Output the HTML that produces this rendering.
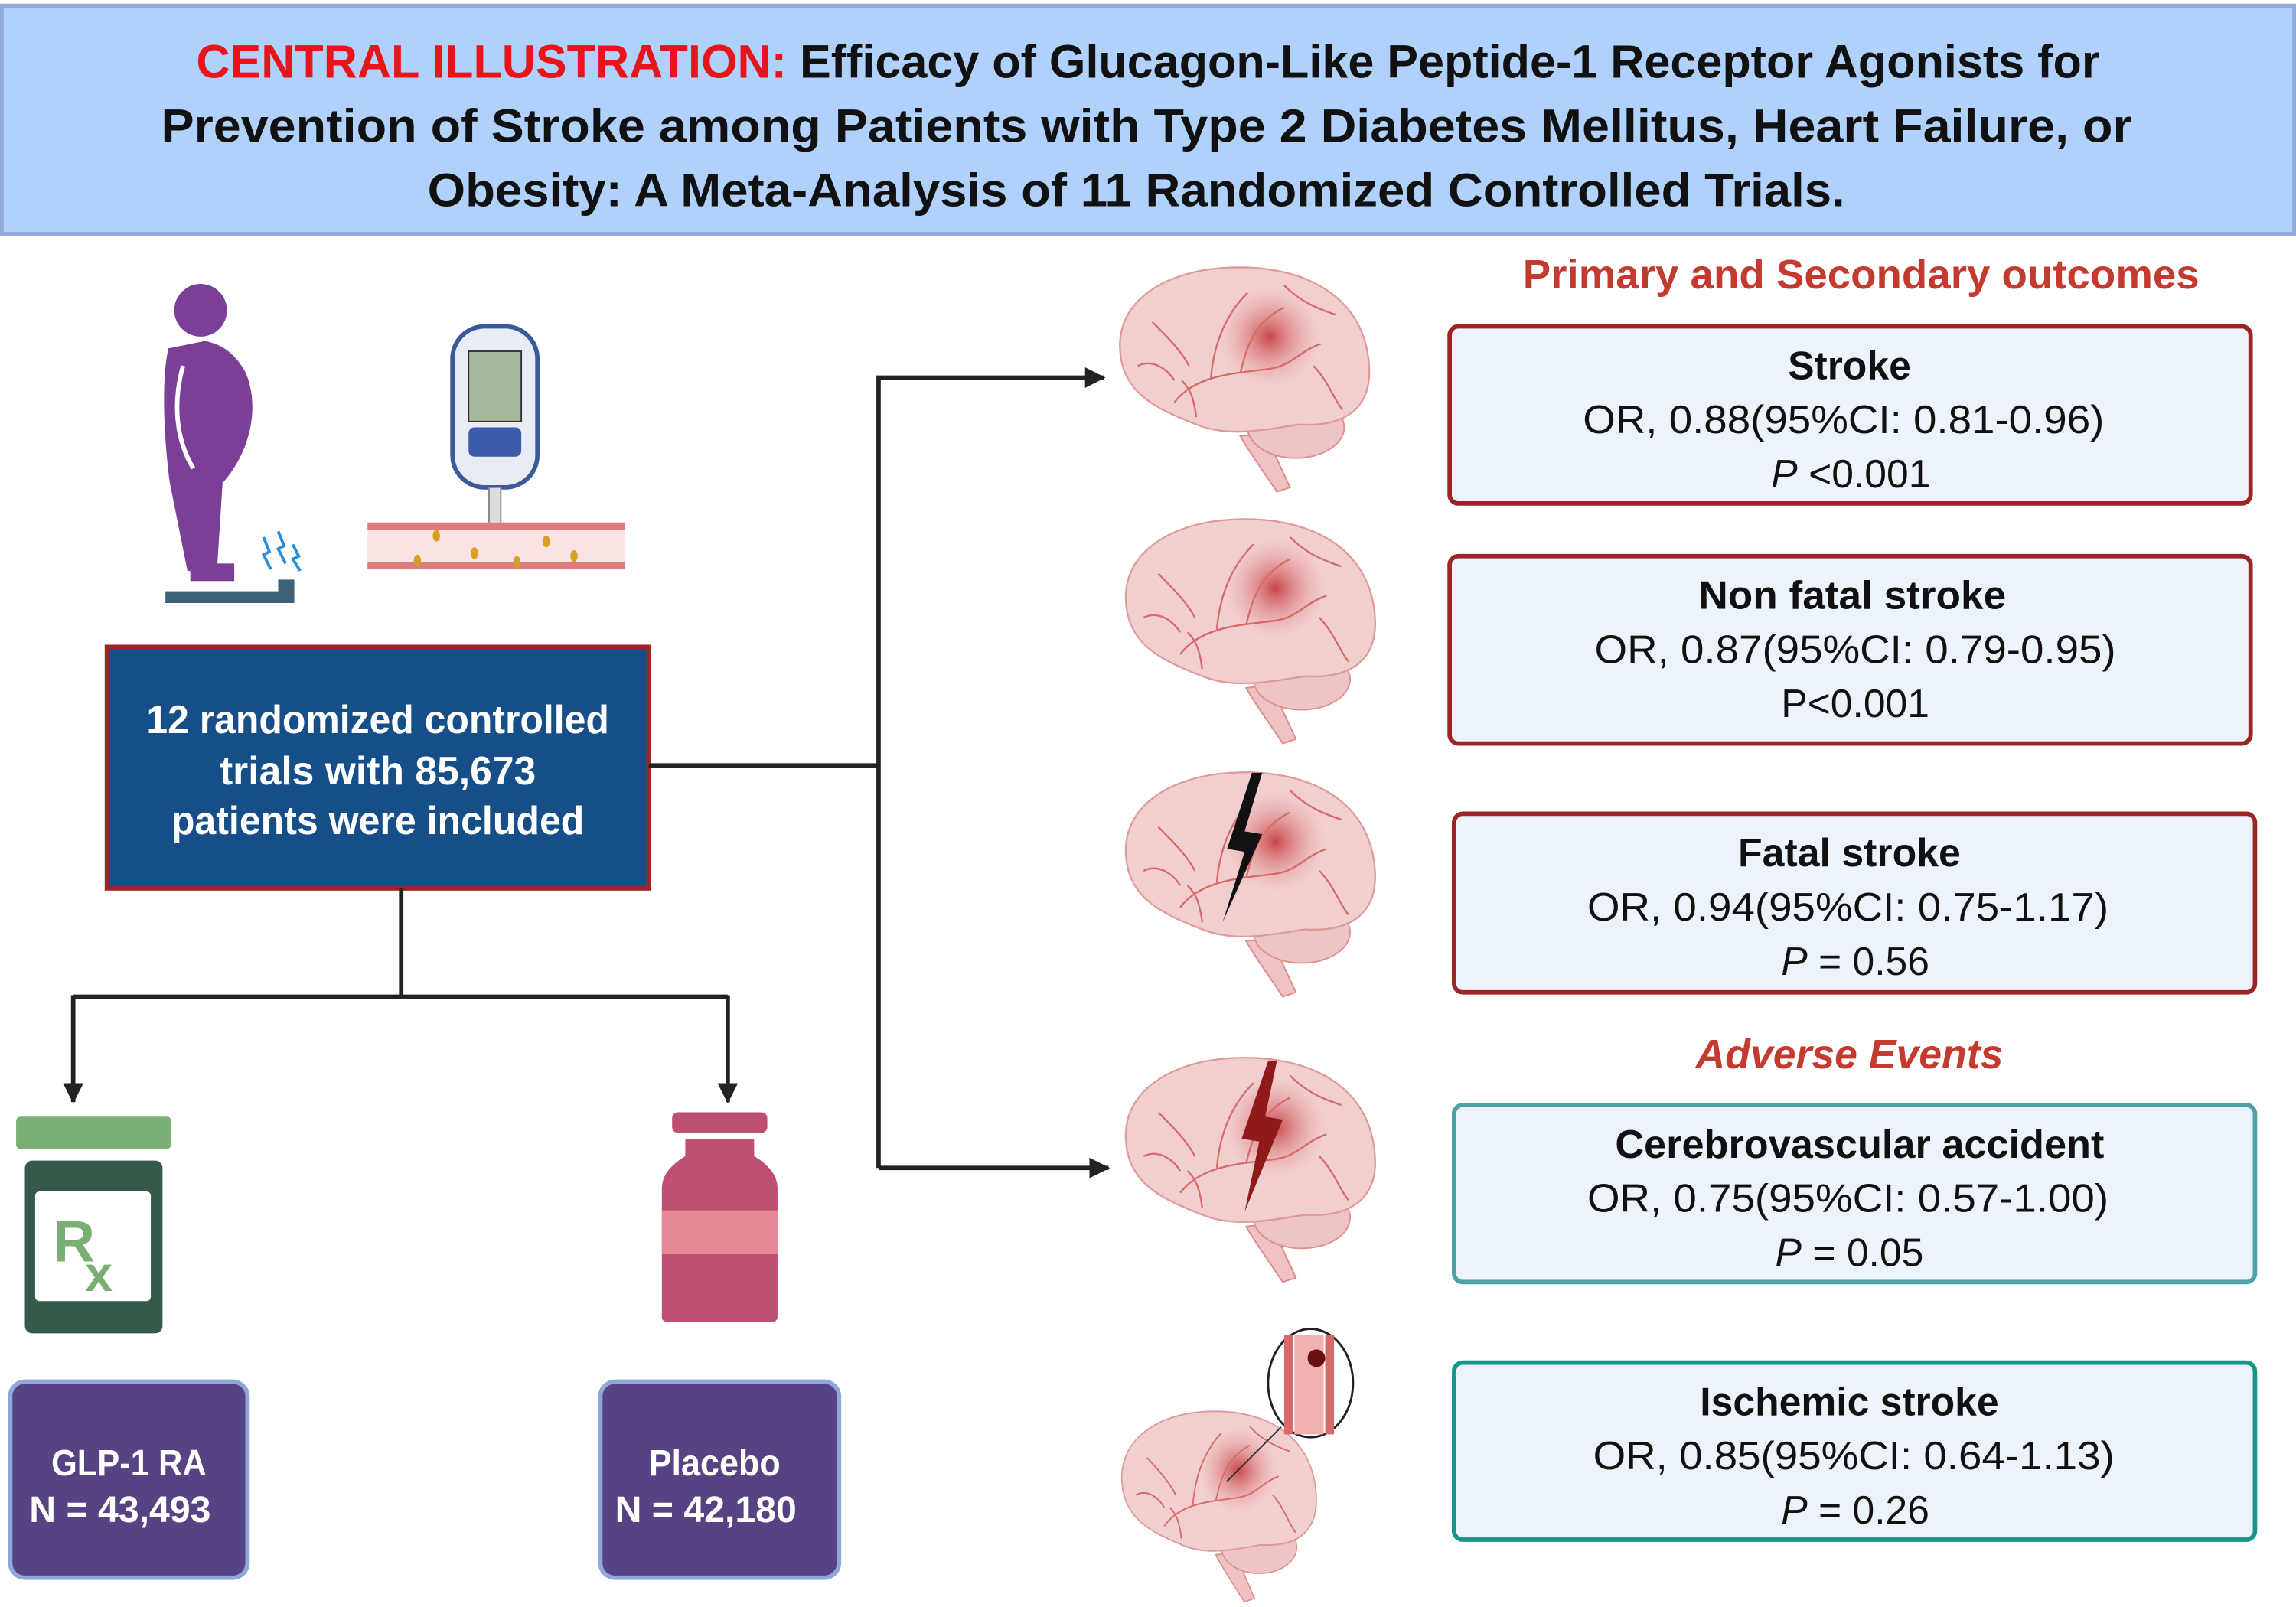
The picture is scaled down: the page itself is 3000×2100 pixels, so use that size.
<!DOCTYPE html>
<html><head><meta charset="utf-8"><style>
html,body{margin:0;padding:0;background:#fff;}
svg{display:block;}
text{font-family:"Liberation Sans",sans-serif;}
</style></head><body>
<svg width="3000" height="2100" viewBox="0 0 1568 1098" preserveAspectRatio="none" xmlns="http://www.w3.org/2000/svg">
<defs>
<radialGradient id="hot" cx="0.5" cy="0.5" r="0.5">
<stop offset="0" stop-color="#c4373a" stop-opacity="0.9"/>
<stop offset="1" stop-color="#e8a0a0" stop-opacity="0"/>
</radialGradient>
<marker id="ah" markerWidth="14" markerHeight="14" refX="13" refY="7" orient="auto" markerUnits="userSpaceOnUse">
<path d="M0,0 L14,7 L0,14 z" fill="#222"/>
</marker>
<g id="brain">
<path d="M90,118 C98,132 108,145 115,156 L124,153 C118,140 112,128 108,116 z" fill="#efc3c3" stroke="#dd8a8a" stroke-width="1"/>
<ellipse cx="128" cy="112" rx="33" ry="21" fill="#eec4c4" stroke="#dd9090" stroke-width="1"/>
<path d="M8,60 C5,25 40,5 80,3 C130,0 175,20 178,70 C180,100 160,112 130,110 C100,115 80,118 60,110 C35,100 10,90 8,60 z" fill="#f2cfcf" stroke="#df9a9a" stroke-width="1.2"/>
<circle cx="110" cy="50" r="35" fill="url(#hot)"/>
<path d="M45,95 C60,75 90,75 110,72 C125,70 130,60 145,55 M70,78 C72,55 80,35 95,20 M90,75 C95,55 100,40 120,30 M30,40 C40,50 50,60 55,70 M140,70 C150,80 155,95 160,100 M60,105 C58,90 55,85 50,80 M20,70 C30,65 40,72 45,80 M120,15 C130,25 140,30 155,35" fill="none" stroke="#d86a6a" stroke-width="1.2"/>
</g>
</defs>

<rect x="1" y="4" width="1566" height="156" fill="#afd1fc" stroke="#92a9d6" stroke-width="3"/>
<text x="784" y="53" text-anchor="middle" font-size="32" font-weight="bold" fill="#111" textLength="1300" lengthAdjust="spacingAndGlyphs"><tspan fill="#e8141a">CENTRAL ILLUSTRATION:</tspan> Efficacy of Glucagon-Like Peptide-1 Receptor Agonists for</text>
<text x="783" y="97" text-anchor="middle" font-size="32" font-weight="bold" fill="#111" textLength="1346" lengthAdjust="spacingAndGlyphs">Prevention of Stroke among Patients with Type 2  Diabetes Mellitus, Heart Failure, or</text>
<text x="776" y="141" text-anchor="middle" font-size="32" font-weight="bold" fill="#111" textLength="968" lengthAdjust="spacingAndGlyphs">Obesity: A Meta-Analysis of 11 Randomized Controlled Trials.</text>

<text x="1271" y="197" text-anchor="middle" font-size="28" font-weight="bold" fill="#c43a2f" textLength="462" lengthAdjust="spacingAndGlyphs">Primary and Secondary outcomes</text>
<text x="1263" y="730" text-anchor="middle" font-size="28" font-weight="bold" font-style="italic" fill="#c43a2f" textLength="210" lengthAdjust="spacingAndGlyphs">Adverse Events</text>

<g font-size="27" fill="#111" text-anchor="middle">
<rect x="990" y="223" width="547" height="121" rx="6" fill="#edf3fb" stroke="#9b2524" stroke-width="3"/>
<text x="1263" y="259" font-weight="bold" textLength="84" lengthAdjust="spacingAndGlyphs">Stroke</text>
<text x="1259" y="296" textLength="356" lengthAdjust="spacingAndGlyphs">OR, 0.88(95%CI: 0.81-0.96)</text>
<text x="1264" y="333"><tspan font-style="italic">P</tspan> &lt;0.001</text>

<rect x="990" y="380" width="547" height="128" rx="6" fill="#edf3fb" stroke="#9b2524" stroke-width="3"/>
<text x="1265" y="416" font-weight="bold" textLength="210" lengthAdjust="spacingAndGlyphs">Non fatal stroke</text>
<text x="1267" y="453" textLength="356" lengthAdjust="spacingAndGlyphs">OR, 0.87(95%CI: 0.79-0.95)</text>
<text x="1267" y="490">P&lt;0.001</text>

<rect x="993" y="556" width="547" height="122" rx="6" fill="#edf3fb" stroke="#9b2524" stroke-width="3"/>
<text x="1263" y="592" font-weight="bold" textLength="152" lengthAdjust="spacingAndGlyphs">Fatal stroke</text>
<text x="1262" y="629" textLength="356" lengthAdjust="spacingAndGlyphs">OR, 0.94(95%CI: 0.75-1.17)</text>
<text x="1267" y="666"><tspan font-style="italic">P</tspan> = 0.56</text>

<rect x="993" y="755" width="547" height="121" rx="6" fill="#edf3fb" stroke="#4fa0a8" stroke-width="3"/>
<text x="1270" y="791" font-weight="bold" textLength="334" lengthAdjust="spacingAndGlyphs">Cerebrovascular accident</text>
<text x="1262" y="828" textLength="356" lengthAdjust="spacingAndGlyphs">OR, 0.75(95%CI: 0.57-1.00)</text>
<text x="1263" y="865"><tspan font-style="italic">P</tspan> = 0.05</text>

<rect x="993" y="931" width="547" height="121" rx="6" fill="#edf3fb" stroke="#14978b" stroke-width="3"/>
<text x="1263" y="967" font-weight="bold" textLength="204" lengthAdjust="spacingAndGlyphs">Ischemic stroke</text>
<text x="1266" y="1004" textLength="356" lengthAdjust="spacingAndGlyphs">OR, 0.85(95%CI: 0.64-1.13)</text>
<text x="1267" y="1041"><tspan font-style="italic">P</tspan> = 0.26</text>
</g>

<rect x="73" y="442" width="370" height="165" fill="#164f87" stroke="#a32222" stroke-width="3"/>
<g fill="#fff" font-size="27" font-weight="bold" text-anchor="middle">
<text x="258" y="501" textLength="316" lengthAdjust="spacingAndGlyphs">12 randomized controlled</text>
<text x="258" y="536" textLength="216" lengthAdjust="spacingAndGlyphs">trials with 85,673</text>
<text x="258" y="570" textLength="282" lengthAdjust="spacingAndGlyphs">patients were included</text>
</g>

<g stroke="#222" stroke-width="3" fill="none">
<path d="M443,523 H600"/>
<path d="M600,798 V258 H754" marker-end="url(#ah)"/>
<path d="M600,798 H757" marker-end="url(#ah)"/>
<path d="M274,607 V681"/>
<path d="M50,681 H497"/>
<path d="M50,680 V753" marker-end="url(#ah)"/>
<path d="M497,680 V753" marker-end="url(#ah)"/>
</g>

<use href="#brain" x="757" y="180"/>
<use href="#brain" x="761" y="352"/>
<use href="#brain" x="761" y="525"/>
<use href="#brain" x="761" y="720"/>
<g transform="translate(760,962) scale(0.78,0.85)"><use href="#brain"/></g>
<path d="M855,528 L838,580 L850,582 L835,630 L862,570 L850,568 L862,528 z" fill="#111"/>
<path d="M866,725 L848,778 L860,780 L850,828 L876,765 L864,763 L872,725 z" fill="#8e1a1a"/>
<ellipse cx="895" cy="945" rx="29" ry="37" fill="#fff" stroke="#222" stroke-width="1.5"/>
<path d="M880,912 V980 M908,912 V980" stroke="#d46a6a" stroke-width="6"/>
<rect x="884" y="912" width="20" height="68" fill="#f0b0b0"/>
<circle cx="899" cy="928" r="6" fill="#6a1010"/>
<line x1="875" y1="975" x2="838" y2="1012" stroke="#333" stroke-width="1"/>

<circle cx="137" cy="212" r="18" fill="#7b3f98"/>
<path d="M115,238 C110,260 112,300 116,330 L128,390 L148,392 L152,330 C170,310 178,280 168,255 C160,240 150,235 140,233 z" fill="#7b3f98"/>
<path d="M125,250 C118,275 120,300 132,320" stroke="#fff" stroke-width="3" fill="none"/>
<rect x="130" y="385" width="30" height="12" fill="#7b3f98"/>
<path d="M113,404 H190 V396 H201 V412 H113 z" fill="#3d6179"/>
<path d="M180,367 l4,10 l-4,2 l5,10 M190,363 l4,10 l-4,2 l5,10 M200,372 l4,8 l-4,2 l5,8" stroke="#2a8fd8" stroke-width="2" fill="none"/>
<rect x="309" y="223" width="58" height="110" rx="22" fill="#e8edf5" stroke="#3c5a9a" stroke-width="3"/>
<rect x="320" y="240" width="36" height="48" fill="#a6b89a" stroke="#333" stroke-width="1"/>
<rect x="320" y="292" width="36" height="20" rx="4" fill="#3a5ca8"/>
<rect x="334" y="333" width="8" height="25" fill="#ddd" stroke="#888" stroke-width="1"/>
<rect x="251" y="357" width="176" height="32" fill="#fbe3e3"/>
<rect x="251" y="357" width="176" height="5" fill="#dc7c7c"/>
<rect x="251" y="384" width="176" height="5" fill="#dc7c7c"/>
<g fill="#d8a020"><ellipse cx="298" cy="366" rx="2.5" ry="4"/><ellipse cx="324" cy="378" rx="2.5" ry="4"/><ellipse cx="353" cy="384" rx="2.5" ry="4"/><ellipse cx="373" cy="370" rx="2.5" ry="4"/><ellipse cx="392" cy="380" rx="2.5" ry="4"/><ellipse cx="285" cy="383" rx="2.5" ry="4"/></g>

<rect x="11" y="763" width="106" height="22" rx="3" fill="#7aaf73"/>
<rect x="17" y="793" width="94" height="118" rx="5" fill="#355a4a"/>
<rect x="24" y="814" width="79" height="75" rx="3" fill="#fff"/>
<text x="36" y="862" font-size="40" fill="#7aaf73" font-weight="bold">R</text>
<text x="58" y="882" font-size="34" fill="#7aaf73" font-weight="bold">x</text>

<rect x="459" y="760" width="65" height="14" rx="4" fill="#bd5070"/>
<path d="M468,778 H515 V790 C525,796 531,803 531,812 V900 a3,3 0 0 1 -3,3 H455 a3,3 0 0 1 -3,-3 V812 C452,803 458,796 468,790 z" fill="#bd5070"/>
<rect x="452" y="827" width="79" height="30" fill="#e78895"/>

<rect x="7" y="944" width="162" height="134" rx="10" fill="#574384" stroke="#8fa8d8" stroke-width="3"/>
<rect x="410" y="944" width="163" height="134" rx="10" fill="#574384" stroke="#8fa8d8" stroke-width="3"/>
<g fill="#fff" font-size="25" font-weight="bold" text-anchor="middle">
<text x="88" y="1008" textLength="106" lengthAdjust="spacingAndGlyphs">GLP-1 RA</text>
<text x="82" y="1040" textLength="124" lengthAdjust="spacingAndGlyphs">N = 43,493</text>
<text x="488" y="1008" textLength="90" lengthAdjust="spacingAndGlyphs">Placebo</text>
<text x="482" y="1040" textLength="124" lengthAdjust="spacingAndGlyphs">N = 42,180</text>
</g>
</svg>
</body></html>
